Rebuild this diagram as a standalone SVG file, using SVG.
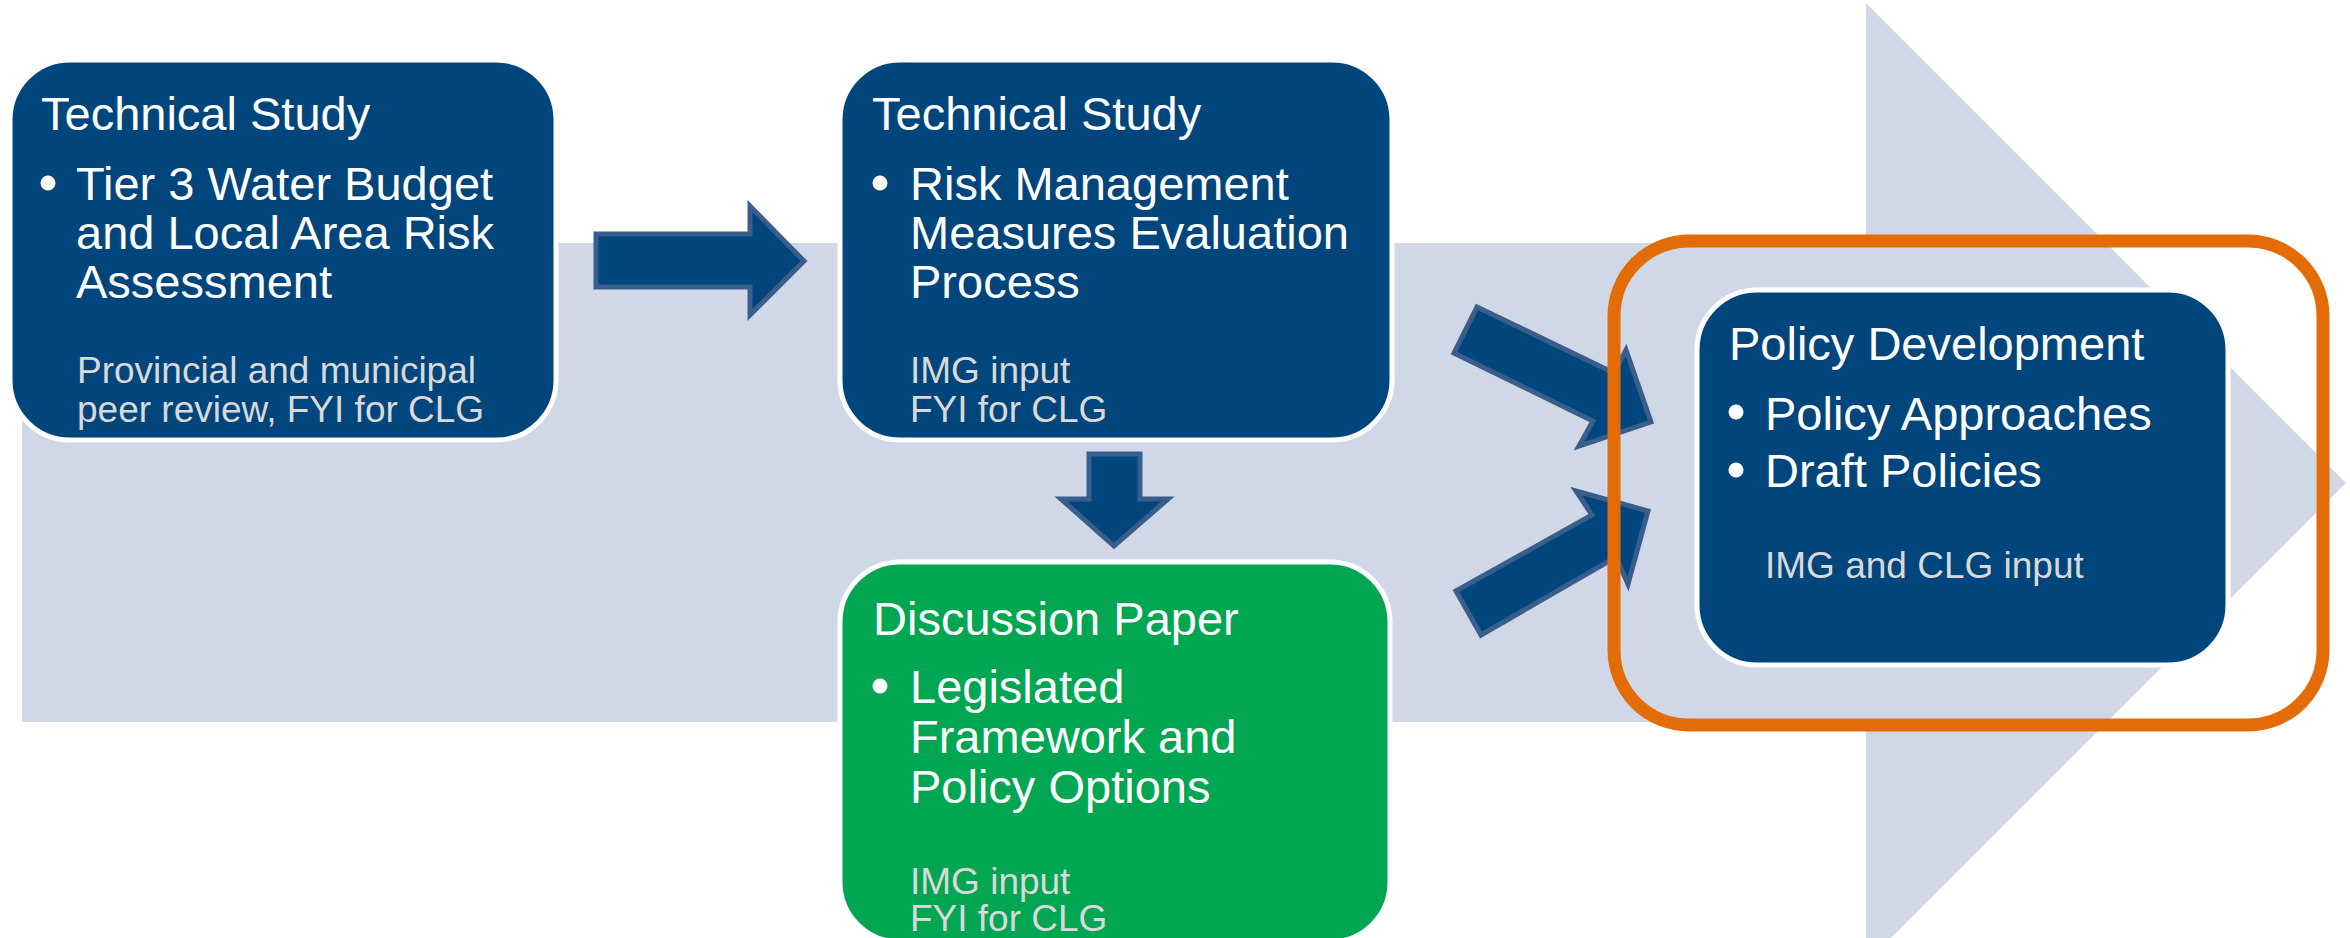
<svg xmlns="http://www.w3.org/2000/svg" width="2350" height="938" viewBox="0 0 2350 938">
<style>
.box{fill:#00457C;stroke:#FFFFFF;stroke-width:5}
.green{fill:#00A651;stroke:#FFFFFF;stroke-width:5}
.t{font-family:"Liberation Sans",Arial,sans-serif;font-size:47px;fill:#FFFFFF}
.s{font-family:"Liberation Sans",Arial,sans-serif;font-size:37px;fill:#D9D9D9}
.dot{fill:#FFFFFF}
.arr{fill:#00457C;stroke:#3A5E8C;stroke-width:5;stroke-linejoin:miter}
</style>
<rect width="2350" height="938" fill="#FFFFFF"/>
<g id="background-arrow">
<polygon points="22,243 1866,243 1866,3 2346,483 1866,963 1866,722 22,722" fill="#D0D8E8"/>
</g>
<g id="connectors">
<polygon class="arr" points="596,234 750,234 750,206 804,261 750,315 750,287 596,287"/>
<polygon class="arr" points="1089,454 1140,454 1140,499 1168,499 1114,546 1061,499 1089,499"/>
<polygon class="arr" points="1477,307 1614,373 1626,350 1651,422 1579,446 1593,421 1454,353"/>
<polygon class="arr" points="1456,591 1592,515 1576,491 1648,511 1628,584 1616,557 1481,635"/>
</g>
<g id="node-technical-study-1">
<rect class="box" x="10" y="60" width="546" height="380" rx="60" ry="60"/>
<text class="t" x="41" y="130">Technical Study</text>
<circle class="dot" cx="48" cy="183" r="7.5"/>
<text class="t" x="76" y="200">Tier 3 Water Budget</text>
<text class="t" x="76" y="249">and Local Area Risk</text>
<text class="t" x="76" y="298">Assessment</text>
<text class="s" x="77" y="383">Provincial and municipal</text>
<text class="s" x="77" y="422">peer review, FYI for CLG</text>
</g>
<g id="node-technical-study-2">
<rect class="box" x="840" y="60" width="552" height="380" rx="60" ry="60"/>
<text class="t" x="872" y="130">Technical Study</text>
<circle class="dot" cx="880" cy="183" r="7.5"/>
<text class="t" x="910" y="200">Risk Management</text>
<text class="t" x="910" y="249">Measures Evaluation</text>
<text class="t" x="910" y="298">Process</text>
<text class="s" x="910" y="383">IMG input</text>
<text class="s" x="910" y="422">FYI for CLG</text>
</g>
<g id="node-discussion-paper">
<rect class="green" x="840" y="562" width="550" height="380" rx="60" ry="60"/>
<text class="t" x="873" y="635">Discussion Paper</text>
<circle class="dot" cx="880" cy="686" r="7.5"/>
<text class="t" x="910" y="703">Legislated</text>
<text class="t" x="910" y="753">Framework and</text>
<text class="t" x="910" y="803">Policy Options</text>
<text class="s" x="910" y="894">IMG input</text>
<text class="s" x="910" y="931">FYI for CLG</text>
</g>
<g id="node-policy-development">
<rect class="box" x="1697" y="290" width="531" height="375" rx="60" ry="60"/>
<text class="t" x="1729" y="360">Policy Development</text>
<circle class="dot" cx="1736" cy="412" r="7.5"/>
<text class="t" x="1765" y="430">Policy Approaches</text>
<circle class="dot" cx="1736" cy="470" r="7.5"/>
<text class="t" x="1765" y="487">Draft Policies</text>
<text class="s" x="1765" y="578">IMG and CLG input</text>
</g>
<g id="highlight">
<rect x="1614" y="241" width="709" height="484" rx="75" ry="75" fill="none" stroke="#E36C09" stroke-width="13"/>
</g>
</svg>
